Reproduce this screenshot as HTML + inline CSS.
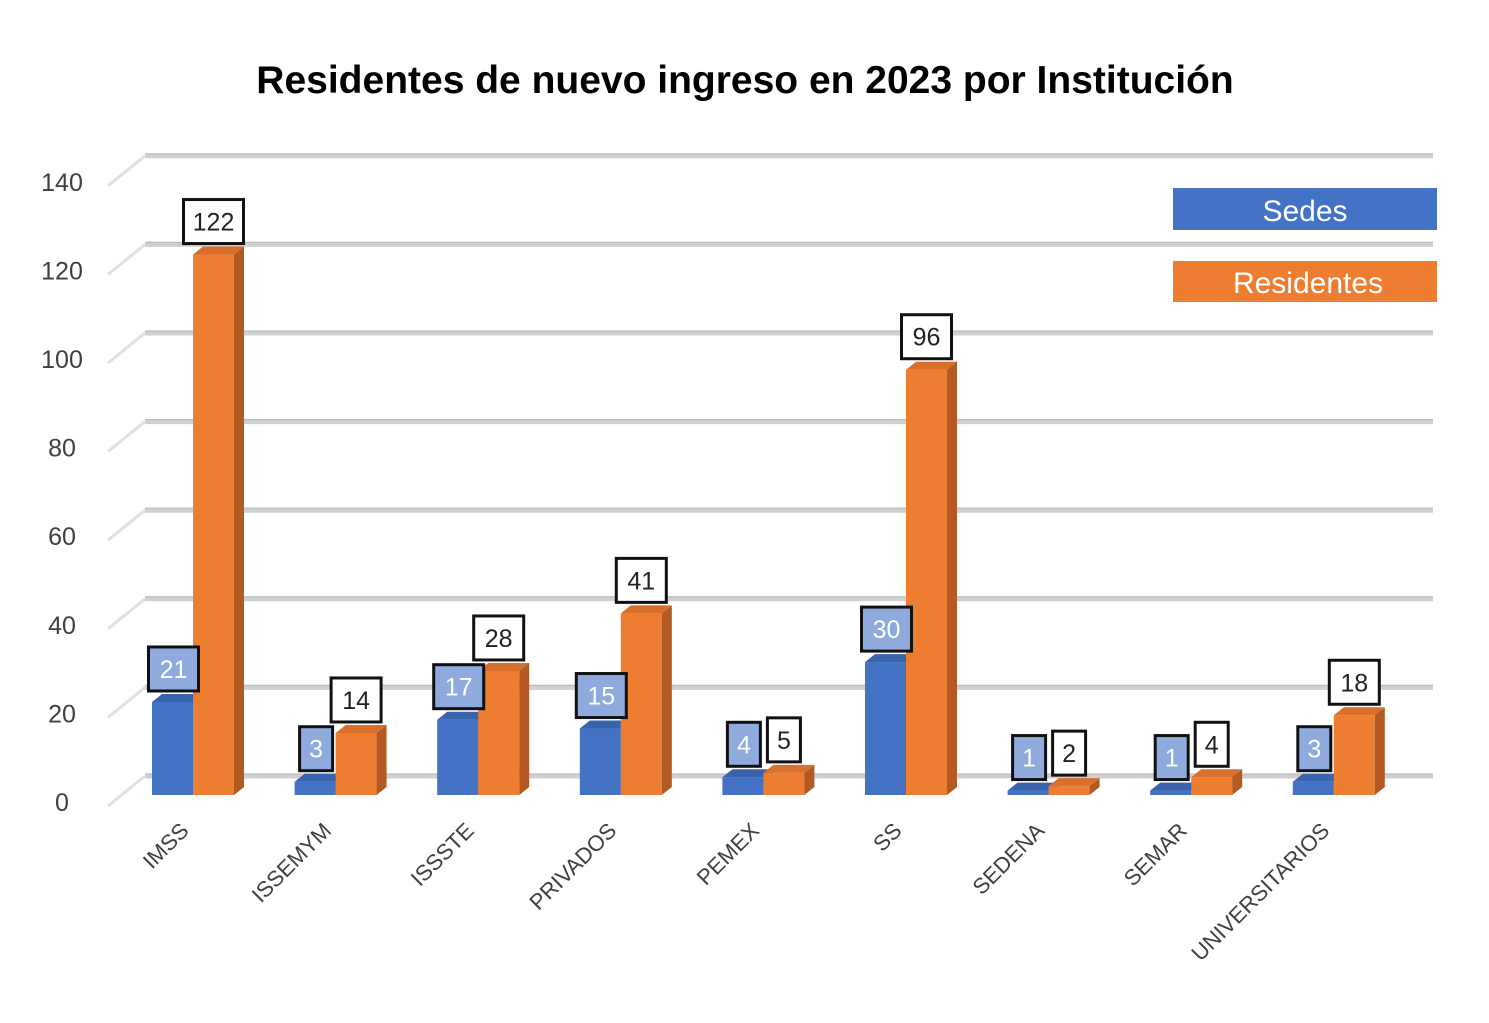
<!DOCTYPE html>
<html><head><meta charset="utf-8">
<style>
html,body{margin:0;padding:0;background:#fff;}
svg{display:block;font-family:"Liberation Sans",sans-serif;}
</style></head>
<body>
<svg id="chart" width="1489" height="1023" viewBox="0 0 1489 1023" xmlns="http://www.w3.org/2000/svg">
<rect width="1489" height="1023" fill="#fff"/>
<text x="745" y="93" text-anchor="middle" font-size="39" font-weight="bold" fill="#000">Residentes de nuevo ingreso en 2023 por Institución</text>
<g id="grid"></g>
<g id="yaxis"></g>
<g id="bars"></g>
<g id="labels"></g>
<g id="xaxis"></g>
<g>
<rect x="1173" y="188" width="264" height="42" fill="#4472c4"/>
<text x="1305" y="221" text-anchor="middle" font-size="30" fill="#fff">Sedes</text>
<rect x="1173" y="261" width="264" height="41" fill="#ed7d31"/>
<text x="1308" y="293" text-anchor="middle" font-size="30" fill="#fff">Residentes</text>
</g>
</svg>
<script>
const categories = ["IMSS","ISSEMYM","ISSSTE","PRIVADOS","PEMEX","SS","SEDENA","SEMAR","UNIVERSITARIOS"];
const sedes = [21,3,17,15,4,30,1,1,3];
const residentes = [122,14,28,41,5,96,2,4,18];
const yTicks = [0,20,40,60,80,100,120,140];

const NS="http://www.w3.org/2000/svg";
const SCALE=4.43, BASE=795, GRID0=776, X0=193, STEP=142.6, BW=41, DX=10, DY=8;
function yv(v){return BASE - v*SCALE;}
function gy(v){return GRID0 - v*SCALE;}
function cx(i){return X0 + i*STEP;}
function mk(tag,attrs,parent){const e=document.createElementNS(NS,tag);for(const k in attrs)e.setAttribute(k,attrs[k]);parent.appendChild(e);return e;}

const grid=document.getElementById('grid'), yax=document.getElementById('yaxis');
yTicks.forEach(t=>{
  const y=gy(t);
  const l=mk('line',{x1:145,y1:y,x2:1433,y2:y,stroke:'#d0d0d0','stroke-width':5},grid);
  
  
  const l2=mk('line',{x1:145,y1:y-2,x2:1433,y2:y-2,stroke:'#bdbdbd','stroke-width':1.2},grid);
  
  
  const d=mk('line',{x1:108,y1:y+30,x2:145,y2:y,stroke:'#e0e0e0','stroke-width':3},grid);
  
  
  const tx=mk('text',{x:62,y:yv(t)+16,'text-anchor':'middle','font-size':25,fill:'#404040'},yax);
  tx.textContent=t;
  
  
});

const bars=document.getElementById('bars'), labs=document.getElementById('labels'), xax=document.getElementById('xaxis');
function bar(x,v,front,top,side,name){
  const g=mk('g',{},bars);
  
  
  const t=yv(v);
  mk('rect',{x:x,y:t,width:BW,height:BASE-t,fill:front},g);
  mk('polygon',{points:`${x},${t} ${x+DX},${t-DY} ${x+BW+DX},${t-DY} ${x+BW},${t}`,fill:top},g);
  mk('polygon',{points:`${x+BW},${t} ${x+BW+DX},${t-DY} ${x+BW+DX},${BASE-DY} ${x+BW},${BASE}`,fill:side},g);
}
function label(x,v,fill,color,name){
  const w=String(v).length===1?33:(String(v).length===2?50:60);
  const bottom=yv(v)-DY-3;
  const r=mk('rect',{x:x-w/2,y:bottom-44,width:w,height:44,fill:fill,stroke:'#111','stroke-width':3},labs);
  
  
  const t=mk('text',{x:x,y:bottom-13,'text-anchor':'middle','font-size':25,fill:color},labs);
  t.textContent=v;
  
  
}
categories.forEach((c,i)=>{
  const x=cx(i);
  bar(x-BW,sedes[i],'#4472c4','#3a63ae','#2f5597','bar-sedes-'+c.toLowerCase());
  bar(x,residentes[i],'#ed7d31','#d86f2a','#b35a22','bar-residentes-'+c.toLowerCase());
  label(x-BW/2+1,sedes[i],'#8faadc','#fff','value-sedes-'+c.toLowerCase());
  label(x+BW/2,residentes[i],'#fff','#222','value-residentes-'+c.toLowerCase());
  const t=mk('text',{x:x-3,y:832,'text-anchor':'end','font-size':22,fill:'#404040',transform:`rotate(-45 ${x-3} 832)`},xax);
  t.textContent=c;
  
  
});
</script>
</body></html>
